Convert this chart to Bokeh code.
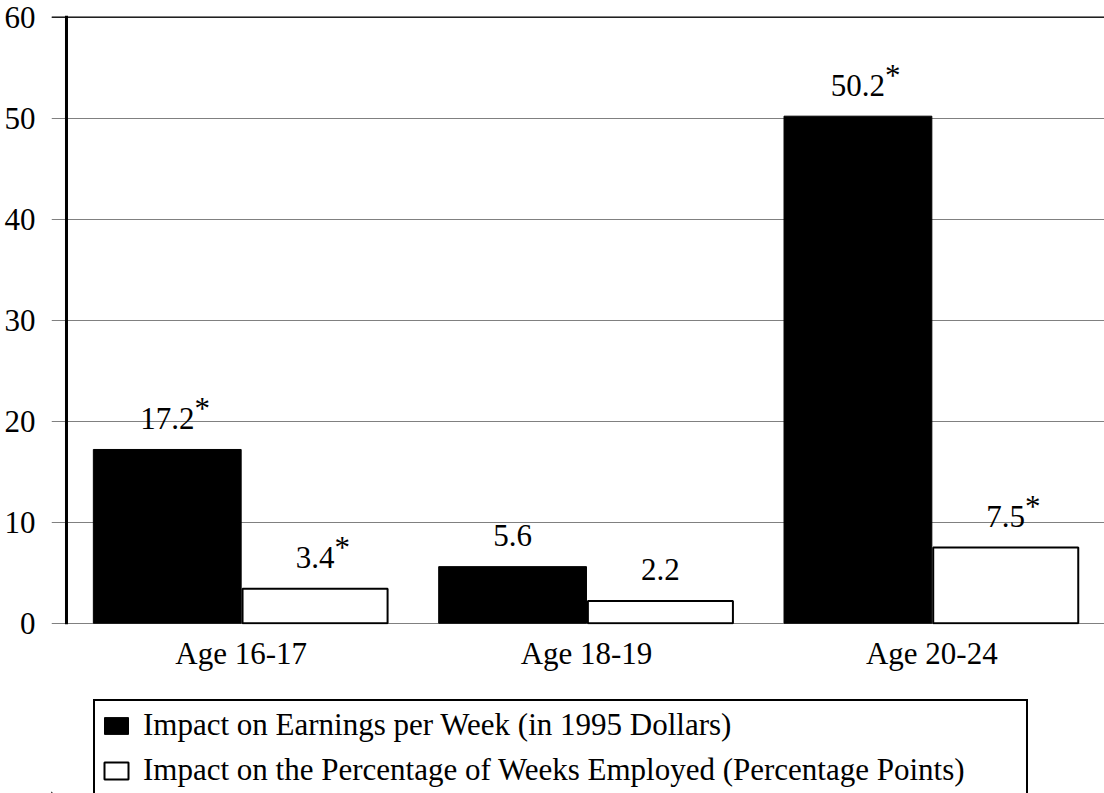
from bokeh.plotting import figure
from bokeh.layouts import column
from bokeh.models import Range1d, FixedTicker, Span, Legend, LegendItem
from bokeh.core.properties import value
from bokeh.embed import file_html
from bokeh.resources import INLINE

# ---- data ----
categories = ["Age 16-17", "Age 18-19", "Age 20-24"]
earnings = [17.2, 5.6, 50.2]
weeks = [3.4, 2.2, 7.5]
earnings_sig = [True, False, True]
weeks_sig = [True, False, True]
y_ticks = [0, 10, 20, 30, 40, 50, 60]
legend_labels = [
    "Impact on Earnings per Week (in 1995 Dollars)",
    "Impact on the Percentage of Weeks Employed (Percentage Points)",
]

FONT = "Liberation Serif"
FS_PX = 31
FS = f"{FS_PX}px"

centers = [i + 0.5 for i in range(len(categories))]
BLACK_W = 0.428
WHITE_W = 0.42
black_x = [c - 0.214 for c in centers]
white_x = [c + 0.214 for c in centers]

BLACK_STYLE = dict(fill_color="black", line_color="black", line_width=1)
WHITE_STYLE = dict(fill_color="white", line_color="black", line_width=2)

TOP_H = 680
p = figure(width=1104, height=TOP_H, output_backend="svg", toolbar_location=None,
           x_range=Range1d(-0.0492, 3.0), y_range=Range1d(-0.129, 60.168),
           min_border_left=51, min_border_right=0, min_border_top=15,
           min_border_bottom=TOP_H - 624)
p.outline_line_color = None
p.background_fill_color = "white"
p.border_fill_color = "white"

# axes
p.yaxis.ticker = FixedTicker(ticks=y_ticks)
p.xaxis.ticker = FixedTicker(ticks=centers)
p.xaxis.major_label_overrides = {c: lab for c, lab in zip(centers, categories)}
for ax in (p.xaxis, p.yaxis):
    ax.axis_line_color = None
    ax.major_tick_line_color = None
    ax.minor_tick_line_color = None
    ax.major_label_text_font = FONT
    ax.major_label_text_font_size = FS
    ax.major_label_text_color = "black"
p.yaxis.major_label_standoff = 10
p.xaxis.major_label_standoff = 5

p.xgrid.visible = False
p.ygrid.ticker = FixedTicker(ticks=y_ticks)
p.ygrid.grid_line_color = "#808080"
p.ygrid.grid_line_width = 1.2

p.add_layout(Span(location=60, dimension="width", line_color="black", line_width=1.2))

# bars
r1 = p.vbar(x=black_x, top=earnings, bottom=0, width=BLACK_W, **BLACK_STYLE)
r2 = p.vbar(x=white_x, top=weeks, bottom=0, width=WHITE_W, **WHITE_STYLE)

# y axis line
p.add_layout(Span(location=-0.0058, dimension="height", line_color="black", line_width=3))

# value labels
EM = {".": 0.25}
def text_w(s):
    return sum(EM.get(ch, 0.5) for ch in s) * FS_PX

lab_x, lab_y, lab_t = [], [], []
st_x, st_y, st_off = [], [], []
for xs, vals, sigs in ((black_x, earnings, earnings_sig), (white_x, weeks, weeks_sig)):
    for x, v, s in zip(xs, vals, sigs):
        t = f"{v:.1f}"
        lab_x.append(x); lab_y.append(v); lab_t.append(t)
        if s:
            st_x.append(x); st_y.append(v); st_off.append(text_w(t) / 2)

p.text(x=lab_x, y=lab_y, text=lab_t, text_align="center", text_baseline="alphabetic",
       y_offset=-31, text_font=value(FONT), text_font_size=FS, text_color="black")
p.text(x=st_x, y=st_y, text=["*"] * len(st_x), x_offset=st_off,
       text_align="left", text_baseline="alphabetic",
       y_offset=-41, text_font=value(FONT), text_font_size=FS, text_color="black")

# ---- legend panel ----
LEG_H = 793 - TOP_H
q = figure(width=1104, height=LEG_H, output_backend="svg", toolbar_location=None,
           x_range=Range1d(0, 1104), y_range=Range1d(0, LEG_H),
           x_axis_type=None, y_axis_type=None,
           min_border_left=0, min_border_right=0, min_border_top=0, min_border_bottom=0)
q.outline_line_color = None
q.grid.visible = False
q.background_fill_color = "white"
q.border_fill_color = "white"
# legend-only renderers, kept outside the visible range of this panel
k1 = q.vbar(x=[-500], top=[1], width=1, **BLACK_STYLE)
k2 = q.vbar(x=[-500], top=[1], width=1, **WHITE_STYLE)

legend = Legend(items=[LegendItem(label=legend_labels[0], renderers=[k1]),
                       LegendItem(label=legend_labels[1], renderers=[k2])],
                location=(42, -3), orientation="vertical")
legend.label_text_font = FONT
legend.label_text_font_size = FS
legend.label_text_color = "black"
legend.glyph_width = 30
legend.glyph_height = 21
legend.label_standoff = 12
legend.padding = 6
legend.spacing = 9
legend.label_width = 877
legend.border_line_color = "black"
legend.border_line_alpha = 1
legend.border_line_width = 2
legend.background_fill_color = "white"
legend.background_fill_alpha = 1
legend.margin = 0
q.add_layout(legend)

layout = column(p, q, spacing=0)
open("out.html", "w").write(file_html(layout, INLINE))
